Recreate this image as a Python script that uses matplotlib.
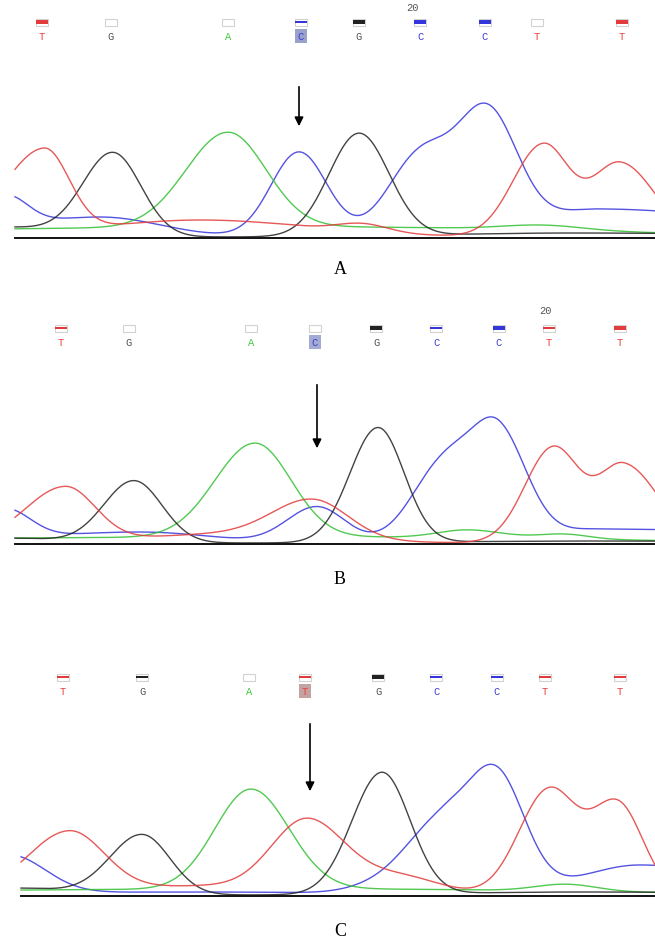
import numpy as np
import matplotlib
matplotlib.use('Agg')
import matplotlib.pyplot as plt
from matplotlib.patches import Rectangle

# ---- base calls (x = scan position, same units as the traces) ----
bases_a = ['T', 'G', 'A', 'C', 'G', 'C', 'C', 'T', 'T']
base_x_a = [42, 111, 228, 301, 359, 420, 485, 537, 622]
qual_a = [0.6, 0, 0, 0.25, 0.6, 0.6, 0.6, 0, 0.6]

bases_b = ['T', 'G', 'A', 'C', 'G', 'C', 'C', 'T', 'T']
base_x_b = [61, 129, 251, 315, 376, 436, 499, 549, 620]
qual_b = [0.35, 0, 0, 0, 0.5, 0.3, 0.6, 0.3, 0.6]

bases_c = ['T', 'G', 'A', 'T', 'G', 'C', 'C', 'T', 'T']
base_x_c = [63, 142, 249, 305, 378, 436, 497, 545, 620]
qual_c = [0.15, 0.25, 0, 0.15, 0.5, 0.35, 0.35, 0.35, 0.15]

# ---- trace peaks: (centre, height, left width, right width) ----
red_a = [(44, 84, 40, 25), (200, 17, 100, 110), (363, 8, 25, 25), (543, 92, 30, 26), (620, 74, 28, 34)]
black_a = [(0, 10, 40, 60), (113, 83, 30, 28), (359, 103, 30, 30), (570, 4, 120, 200)]
green_a = [(330, 10, 500, 250), (228, 95, 42, 38), (543, 5, 40, 40)]
blue_a = [(5, 32, 20, 22), (100, 20, 80, 60), (299, 85, 28, 28), (420, 80, 32, 30), (487, 122, 30, 30), (600, 28, 60, 150)]

red_b = [(65, 55, 40, 30), (230, 9, 90, 90), (313, 38, 40, 35), (553, 95, 28, 26), (624, 78, 26, 34)]
black_b = [(0, 5, 40, 60), (134, 62, 30, 28), (378, 115, 28, 26), (580, 2, 120, 200)]
green_b = [(330, 6, 500, 250), (255, 94, 40, 36), (468, 8, 30, 35), (564, 5, 25, 25)]
blue_b = [(5, 30, 20, 25), (140, 11, 100, 70), (317, 36, 30, 28), (445, 80, 32, 30), (499, 105, 26, 28), (600, 14, 50, 200)]

red_c = [(69, 62, 42, 35), (200, 9, 80, 80), (307, 72, 35, 38), (400, 18, 40, 40), (549, 105, 30, 28), (618, 90, 26, 25)]
black_c = [(10, 7, 40, 60), (142, 60, 32, 28), (382, 122, 30, 28), (580, 3, 120, 200)]
green_c = [(330, 6, 500, 250), (251, 100, 36, 38), (566, 7, 30, 30)]
blue_c = [(10, 38, 25, 35), (200, 3, 200, 150), (376, 6, 30, 30), (440, 70, 35, 30), (497, 115, 28, 28), (640, 30, 60, 100)]

COLORS = {'T': '#e23b3b', 'G': '#222222', 'A': '#33c033', 'C': '#3535dc'}
LETTER_COLORS = {'T': '#e8403c', 'G': '#505050', 'A': '#40c840', 'C': '#3a3ad0'}


def trace(x, peaks):
    y = np.zeros_like(x, dtype=float)
    for c, h, wl, wr in peaks:
        w = np.where(x < c, wl, wr)
        y += h * np.exp(-0.5 * ((x - c) / w) ** 2)
    return y


def draw_panel(fig, top_px, base_px, start, channels, bases, bx, qual, letter_px,
               hl_idx, hl_color, arrow_x, arrow_top, arrow_tip, label, label_y,
               num20=None):
    H = 945.0
    ax = fig.add_axes([0, 1 - (top_px + 300) / H, 1, 300 / H])
    ylo = base_px - (top_px + 300)
    ax.set_xlim(0, 655)
    ax.set_ylim(ylo, base_px - top_px)
    ax.axis('off')

    x = np.arange(start, 656, 1.0)
    for key, peaks in channels:
        ax.plot(x, trace(x, peaks), color=COLORS[key], lw=1.0, alpha=0.85)
    ax.plot([start, 655], [-1, -1], color='#111111', lw=1.4)

    # base calls and quality bars (letter_px = pixel row of the letters)
    ly = base_px - letter_px
    for i, (b, xb, q) in enumerate(zip(bases, bx, qual)):
        if i == hl_idx:
            ax.add_patch(Rectangle((xb - 6, ly - 7), 12, 14, color=hl_color, lw=0))
        ax.text(xb, ly, b, color=LETTER_COLORS[b], fontsize=7.5, ha='center', va='center',
                family='Liberation Mono')
        by = ly + 10
        ax.add_patch(Rectangle((xb - 6, by), 12, 7, fill=False, ec='#d2d2d2', lw=0.8))
        if q > 0:
            ax.add_patch(Rectangle((xb - 6, by + 7 * (1 - q) / 2 + 0.5), 12, 7 * q,
                                   color=COLORS[b], lw=0))

    if num20 is not None:
        ax.text(num20[0], base_px - num20[1], '20', color='#555555', fontsize=7.5,
                ha='center', va='center', family='Liberation Mono')

    ax.annotate('', xy=(arrow_x, base_px - arrow_tip), xytext=(arrow_x, base_px - arrow_top),
                arrowprops=dict(arrowstyle='-|>', color='black', lw=1.2, mutation_scale=13))
    ax.text(340, base_px - label_y, label, fontsize=13, family='Liberation Serif',
            ha='center', va='center')


fig = plt.figure(figsize=(6.55, 9.45), dpi=100)

draw_panel(fig, 0, 238, 15,
           [('C', blue_a), ('A', green_a), ('G', black_a), ('T', red_a)],
           bases_a, base_x_a, qual_a, 37, 3, '#9aa2cc', 299, 85, 130, 'A', 270, num20=(412, 8))
draw_panel(fig, 300, 544, 15,
           [('C', blue_b), ('A', green_b), ('G', black_b), ('T', red_b)],
           bases_b, base_x_b, qual_b, 343, 3, '#a4abd2', 317, 383, 452, 'B', 580, num20=(545, 311))
draw_panel(fig, 645, 896, 21,
           [('C', blue_c), ('A', green_c), ('G', black_c), ('T', red_c)],
           bases_c, base_x_c, qual_c, 692, 3, '#c4a2a2', 310, 722, 795, 'C', 932)

fig.savefig('out.png', dpi=100)
